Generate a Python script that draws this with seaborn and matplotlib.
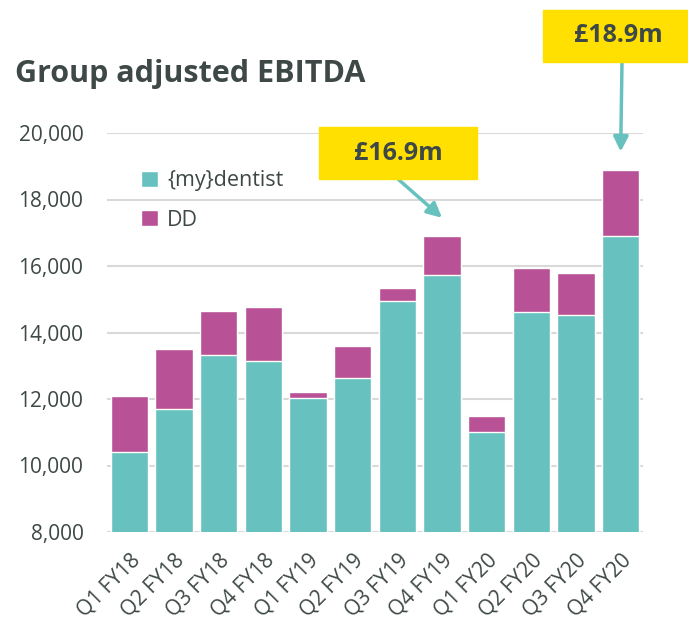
import numpy as np
import pandas as pd
import matplotlib
matplotlib.use('Agg')
import matplotlib.pyplot as plt
from matplotlib.patches import Rectangle
import seaborn as sns

quarters = ['Q1 FY18', 'Q2 FY18', 'Q3 FY18', 'Q4 FY18',
            'Q1 FY19', 'Q2 FY19', 'Q3 FY19', 'Q4 FY19',
            'Q1 FY20', 'Q2 FY20', 'Q3 FY20', 'Q4 FY20']
mydentist = [10420, 11690, 13330, 13150, 12030, 12640,
             14940, 15720, 11000, 14620, 14530, 16900]
dd = [1670, 1800, 1330, 1630, 180, 940,
      410, 1180, 480, 1320, 1260, 1990]
callouts = {'Q4 FY19': '£16.9m', 'Q4 FY20': '£18.9m'}

teal = '#67C1BE'
magenta = '#B85195'
text_col = '#3E4847'

df = pd.DataFrame({'quarter': quarters, 'mydentist': mydentist, 'dd': dd})
df['total'] = df['mydentist'] + df['dd']

sns.set_style('white')
plt.rcParams['font.family'] = ['Open Sans', 'DejaVu Sans']

fig = plt.figure(figsize=(6.88, 6.2), dpi=100)
W, H = 688, 620
ax = fig.add_axes([107 / W, 1 - 532 / H, 536 / W, 399 / H])

sns.barplot(data=df, x='quarter', y='total', color=magenta, width=0.83,
            saturation=1, ax=ax, label='DD', zorder=2)
sns.barplot(data=df, x='quarter', y='mydentist', color=teal, width=0.83,
            saturation=1, ax=ax, label='{my}dentist', zorder=3)

ax.set_ylim(8000, 20000)
ax.set_xlim(-0.5, 11.5)
ax.set_yticks(np.arange(8000, 20001, 2000))
ax.yaxis.set_major_formatter(matplotlib.ticker.FuncFormatter(lambda v, p: f'{v:,.0f}'))
ax.grid(axis='y', color='#D9D9D9', lw=1.5, zorder=0)
ax.set_axisbelow(True)
for s in ax.spines.values():
    s.set_visible(False)
ax.set_xlabel('')
ax.set_ylabel('')
ax.tick_params(axis='y', labelsize=15, labelcolor=text_col, length=0, pad=17)
ax.tick_params(axis='x', labelsize=15, labelcolor=text_col, length=0, pad=13)
plt.setp(ax.get_xticklabels(), rotation=45, ha='right', rotation_mode='anchor')

handles, labels = ax.get_legend_handles_labels()
order = [labels.index('{my}dentist'), labels.index('DD')]
ax.legend([handles[i] for i in order], [labels[i] for i in order],
          loc='upper left', bbox_to_anchor=(0.028, 0.955), frameon=False,
          fontsize=15.5, labelcolor=text_col, handlelength=0.75, handleheight=0.75,
          handletextpad=0.45, labelspacing=0.85)

fig.text(15 / W, 1 - 74 / H, 'Group adjusted EBITDA', fontsize=22,
         fontweight='bold', color=text_col, va='center', ha='left')

# callout boxes (pixel positions)
boxes = {'Q4 FY19': (319, 127, 158, 52), 'Q4 FY20': (543, 10, 150, 52)}
tips = {'Q4 FY19': (398, 179), 'Q4 FY20': (622, 62)}
for q, lab in callouts.items():
    x0, y0, w, h = boxes[q]
    fig.patches.append(Rectangle((x0 / W, 1 - (y0 + h) / H), w / W, h / H,
                                 transform=fig.transFigure, color='#FFE000', zorder=5))
    fig.text((x0 + w / 2) / W, 1 - (y0 + h / 2) / H, lab, fontsize=18,
             fontweight='bold', color=text_col, ha='center', va='center', zorder=6)
    i = quarters.index(q)
    tx, ty = tips[q]
    ax.annotate('', xy=(i, df['total'][i] + 550), xycoords='data',
                xytext=(tx / W, 1 - ty / H), textcoords='figure fraction',
                arrowprops=dict(arrowstyle='-|>', color=teal, lw=2.5,
                                mutation_scale=22, shrinkA=0, shrinkB=0),
                annotation_clip=False)

fig.savefig('out.png', dpi=100)
